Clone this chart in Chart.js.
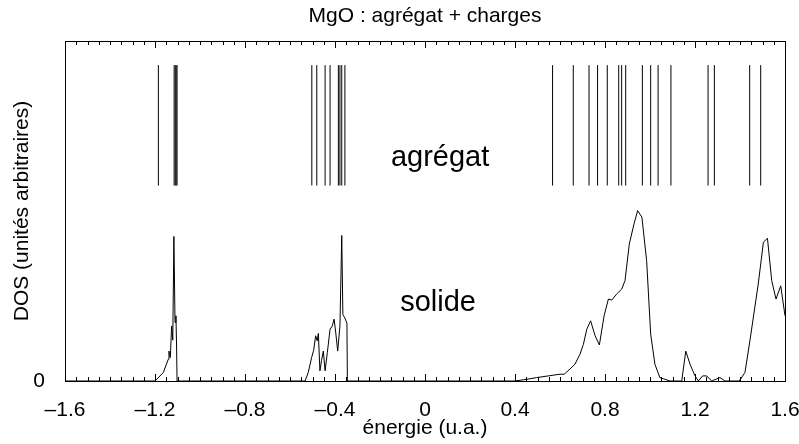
<!DOCTYPE html>
<html>
<head>
<meta charset="utf-8">
<script src="https://cdn.jsdelivr.net/npm/chart.js@4.4.1/dist/chart.umd.min.js"></script>
<style>
  html, body { margin: 0; padding: 0; background: #fff; }
  #box { width: 799px; height: 444px; }
</style>
</head>
<body>
<div id="box"><canvas id="dosChart" width="799" height="444"></canvas></div>
<script>
// niveaux de l'agrégat (u.a.)
var levels = [-1.185, -1.115, -1.110, -1.106, -1.102,
  -0.503, -0.481, -0.444, -0.422, -0.385, -0.378, -0.370, -0.356,
  0.567, 0.659, 0.729, 0.767, 0.810, 0.861, 0.874, 0.892, 0.966, 1.003,
  1.036, 1.093, 1.258, 1.286, 1.443, 1.492]
var levelLow = 0.575
var levelHigh = 0.929

// DOS du solide
var dosE = [-1.6, -1.2, -1.163, -1.141, -1.138, -1.132, -1.126, -1.121, -1.116, -1.111, -1.107, -1.104, -1.102,
  -0.533, -0.519, -0.504, -0.495, -0.486, -0.479, -0.474, -0.467, -0.46, -0.452, -0.444, -0.434, -0.422,
  -0.412, -0.404, -0.396, -0.388, -0.378, -0.37, -0.365, -0.356, -0.347, -0.345,
  0.4, 0.452, 0.496, 0.548, 0.6, 0.619, 0.644, 0.667, 0.689, 0.704, 0.719, 0.736, 0.756, 0.775, 0.796,
  0.815, 0.83, 0.852, 0.874, 0.889, 0.908, 0.929, 0.945, 0.964, 0.985, 1.003, 1.022, 1.044, 1.089,
  1.141, 1.159, 1.178, 1.2, 1.215, 1.234, 1.252, 1.274, 1.311, 1.333, 1.397, 1.422, 1.444, 1.481,
  1.504, 1.522, 1.541, 1.56, 1.581, 1.6]
var dosV = [0, 0, 0.025, 0.064, 0.088, 0.069, 0.162, 0.12, 0.425, 0.172, 0.192, 0.1, 0,
  0, 0.025, 0.069, 0.09, 0.133, 0.118, 0.14, 0.03, 0.06, 0.088, 0.03, 0.084, 0.152,
  0.162, 0.182, 0.138, 0.088, 0.162, 0.428, 0.195, 0.185, 0.17, 0,
  0, 0.005, 0.01, 0.015, 0.02, 0.02, 0.035, 0.05, 0.079, 0.108, 0.152, 0.177, 0.133, 0.106, 0.192,
  0.241, 0.238, 0.256, 0.27, 0.295, 0.403, 0.462, 0.501, 0.482, 0.354, 0.138, 0.049, 0.01, 0,
  0, 0.088, 0.049, 0.015, 0, 0.015, 0.015, 0, 0.01, 0, 0, 0.025, 0.118, 0.285,
  0.408, 0.42, 0.295, 0.241, 0.28, 0.192]

var xTicks = [-1.6, -1.2, -0.8, -0.4, 0, 0.4, 0.8, 1.2, 1.6]

var font = "'Liberation Sans', Arial, Helvetica, sans-serif"

// segments verticaux, séparés par des null
var levelPts = []
levels.forEach(function (e) {
  levelPts.push({ x: e, y: levelLow })
  levelPts.push({ x: e, y: levelHigh })
  levelPts.push({ x: e, y: null })
})

// cadre, graduations intérieures, textes
var decor = {
  id: "decor",
  afterDraw: function (chart) {
    var c = chart.ctx
    var a = chart.chartArea
    var sx = chart.scales.x
    var sy = chart.scales.y
    c.save()
    c.strokeStyle = "#000"
    c.lineWidth = 1
    c.strokeRect(Math.round(a.left) + 0.5, Math.round(a.top) + 0.5, Math.round(a.right - a.left), Math.round(a.bottom - a.top))
    c.beginPath()
    for (var i = 0; i <= 64; i++) {
      var v = -1.6 + i * 0.05
      var px = Math.round(sx.getPixelForValue(v)) + 0.5
      var len = i % 8 === 0 ? 7 : 4
      c.moveTo(px, a.bottom)
      c.lineTo(px, a.bottom - len)
      c.moveTo(px, a.top)
      c.lineTo(px, a.top + len)
    }
    var y0 = Math.round(sy.getPixelForValue(0)) + 0.5
    c.moveTo(a.left, y0)
    c.lineTo(a.left + 6, y0)
    c.stroke()

    c.fillStyle = "#000"
    c.textAlign = "center"
    c.textBaseline = "middle"
    c.font = "21px " + font
    c.fillText("MgO : agrégat + charges", (a.left + a.right) / 2, 16)
    c.font = "29px " + font
    c.fillText("agrégat", sx.getPixelForValue(0.067), sy.getPixelForValue(0.655))
    c.fillText("solide", sx.getPixelForValue(0.058), sy.getPixelForValue(0.23))
    c.restore()
  },
}

var ctx = document.getElementById("dosChart")
var chart_dos = new Chart(ctx, {
  type: "line",
  plugins: [decor],
  data: {
    datasets: [
      {
        label: "solide",
        data: dosE.map(function (e, i) { return { x: e, y: dosV[i] } }),
        borderColor: "#000",
        borderWidth: 1,
        pointRadius: 0,
        tension: 0,
      },
      {
        label: "agrégat",
        data: levelPts,
        borderColor: "#000",
        borderWidth: 1,
        pointRadius: 0,
        spanGaps: false,
      },
    ],
  },
  options: {
    responsive: false,
    animation: false,
    layout: { padding: { top: 41, right: 14, left: 0, bottom: 0 } },
    plugins: { legend: { display: false }, tooltip: { enabled: false } },
    scales: {
      x: {
        type: "linear",
        min: -1.6,
        max: 1.6,
        grid: { display: false },
        border: { display: false },
        afterBuildTicks: function (s) {
          s.ticks = xTicks.map(function (v) { return { value: v } })
        },
        afterFit: function (s) {
          s.height = 63
          s.paddingLeft = 0
          s.paddingRight = 0
        },
        ticks: {
          color: "#000",
          padding: 9,
          maxRotation: 0,
          autoSkip: false,
          font: { family: font, size: 21 },
          callback: function (v) {
            if (Math.abs(v) < 1e-9) return "0"
            return (v < 0 ? "\u2013" : "") + Math.abs(v).toFixed(1)
          },
        },
        title: {
          display: true,
          text: "énergie (u.a.)",
          color: "#000",
          font: { family: font, size: 21 },
          padding: { top: 0, bottom: 3 },
        },
      },
      y: {
        min: 0,
        max: 1,
        grid: { display: false },
        border: { display: false },
        afterBuildTicks: function (s) {
          s.ticks = [{ value: 0 }]
        },
        afterFit: function (s) {
          s.width = 65
          s.paddingTop = 0
          s.paddingBottom = 0
        },
        ticks: {
          color: "#000",
          padding: 12,
          font: { family: font, size: 21 },
          callback: function () { return "0" },
        },
        title: {
          display: true,
          text: "DOS (unités arbitraires)",
          color: "#000",
          font: { family: font, size: 21 },
          padding: { top: 10, bottom: 0 },
        },
      },
    },
  },
})
</script>
</body>
</html>
